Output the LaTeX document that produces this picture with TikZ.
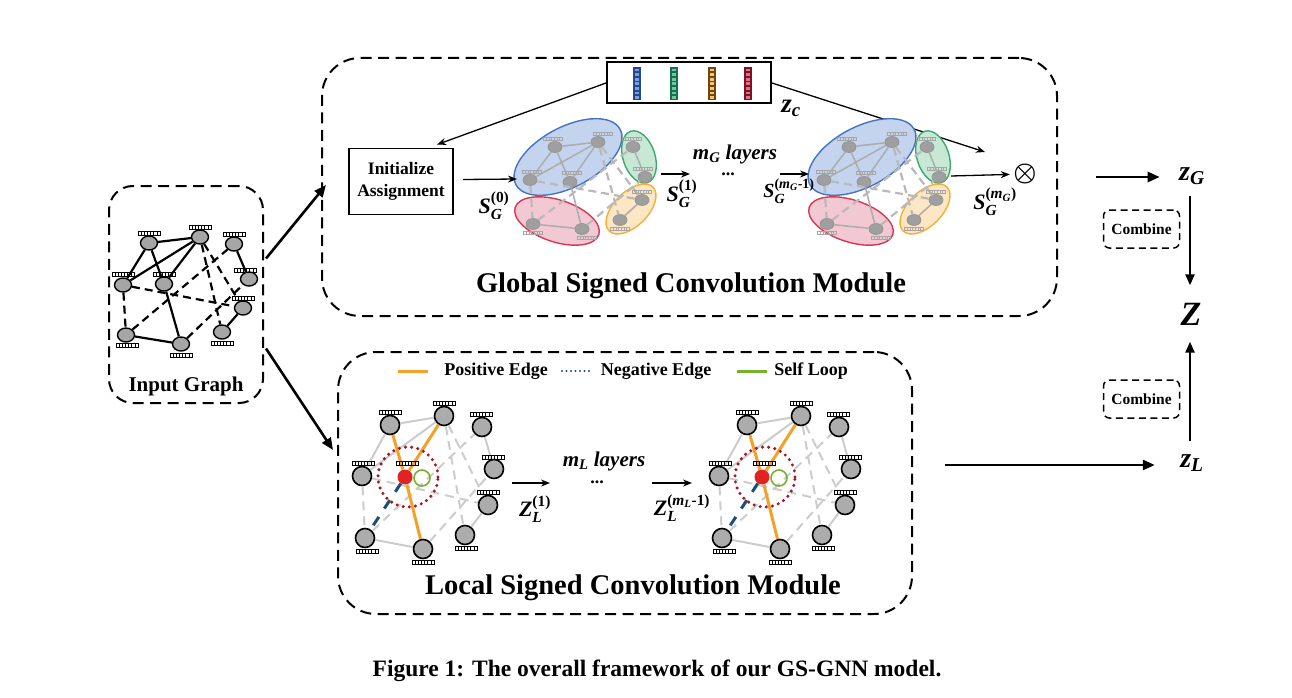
\RequirePackage{fix-cm}
\documentclass[tikz,border=0pt]{standalone}
\usepackage{amsmath}
\usepackage{bm}
\usepackage{fontspec}
\setmainfont{Liberation Serif}
\usetikzlibrary{arrows.meta,shapes.geometric,calc}
\newcommand{\bfit}[1]{\text{\bfseries\itshape #1}}
\newcommand{\bfup}[1]{\text{\bfseries #1}}
\definecolor{eorange}{RGB}{245,160,40}
\definecolor{eblue}{RGB}{31,78,121}
\definecolor{egreen}{RGB}{120,175,45}
\definecolor{edot}{RGB}{160,25,40}
\definecolor{ered}{RGB}{225,35,35}
\definecolor{cbluef}{RGB}{196,212,238}
\definecolor{cblued}{RGB}{68,114,196}
\definecolor{cgreenf}{RGB}{200,232,214}
\definecolor{cgreend}{RGB}{60,170,110}
\definecolor{corangef}{RGB}{253,230,196}
\definecolor{coranged}{RGB}{245,175,55}
\definecolor{credf}{RGB}{242,200,210}
\definecolor{credd}{RGB}{215,55,85}
\definecolor{bbd}{RGB}{40,70,140}\definecolor{bbl}{RGB}{120,160,225}
\definecolor{bgd}{RGB}{25,110,75}\definecolor{bgl}{RGB}{110,200,160}
\definecolor{bod}{RGB}{110,70,20}\definecolor{bol}{RGB}{250,195,110}
\definecolor{brd}{RGB}{120,20,40}\definecolor{brl}{RGB}{230,110,135}
\newcommand{\zcbar}[3]{%
  \fill[#2] (#1-3.6,67) rectangle (#1+3.6,100);
  \foreach \k in {0,...,6}{\fill[#3] (#1-2.2,68.6+4.6*\k) rectangle (#1+2.2,71.4+4.6*\k);}}
\newcommand{\clgraph}[2]{%
\begin{scope}[xshift=#2pt]
  \filldraw[fill=cbluef,draw=cblued,line width=1.4pt,rotate around={28:(568,157)}] (568,157) ellipse [x radius=59pt,y radius=30pt];
  \filldraw[fill=cgreenf,draw=cgreend,line width=1.4pt,rotate around={18:(639,157)}] (639,157) ellipse [x radius=16pt,y radius=27pt];
  \filldraw[fill=corangef,draw=coranged,line width=1.4pt,rotate around={45:(631,209)}] (631,209) ellipse [x radius=31pt,y radius=17pt];
  \filldraw[fill=credf,draw=credd,line width=1.4pt,rotate around={-18:(557,221)}] (557,221) ellipse [x radius=44pt,y radius=21pt];
  \node[cn] (#1a) at (555,147) {};
  \node[cn] (#1b) at (598,142) {};
  \node[cn] (#1c) at (530,180) {};
  \node[cn] (#1d) at (570,182) {};
  \node[cn] (#1e) at (633,147) {};
  \node[cn] (#1f) at (645,177) {};
  \node[cn] (#1g) at (642,200) {};
  \node[cn] (#1h) at (620,220) {};
  \node[cn] (#1i) at (533,224) {};
  \node[cn] (#1j) at (582,229) {};
  \foreach \u/\v in {a/b,c/a,c/b,d/a,d/b,d/j,i/j,e/f,g/h}{\draw[cs] (#1\u) -- (#1\v);}
  \foreach \u/\v in {c/i,c/g,b/h,b/g,i/e,j/f}{\draw[cd] (#1\u) -- (#1\v);}
  \foreach \p in {(553,139),(603,134),(532,172),(572,173),(632,139),(643,169),(642,192),(620,229),(533,233),(587,238)}{\pic[gray!70,scale=0.85] at \p {vb};}
\end{scope}}
\newcommand{\locgraph}[2]{%
\begin{scope}[xshift=#2pt]
  \node[ln] (#1p1) at (390,425) {};
  \node[ln] (#1p2) at (444,416) {};
  \node[ln] (#1p3) at (482,427) {};
  \node[ln] (#1p4) at (362,476) {};
  \node[rn] (#1p5) at (405,477) {};
  \node[ln] (#1p6) at (494,469) {};
  \node[ln] (#1p7) at (488,505) {};
  \node[ln] (#1p8) at (365,538) {};
  \node[ln] (#1p9) at (423,549) {};
  \node[ln] (#1p10) at (465,535) {};
  \foreach \u/\v in {p1/p2,p4/p1,p4/p2,p8/p9,p3/p6,p7/p10}{\draw[ls] (#1\u) -- (#1\v);}
  \foreach \u/\v in {p4/p8,p4/p7,p2/p10,p2/p7,p8/p3,p9/p6}{\draw[ld] (#1\u) -- (#1\v);}
  \foreach \u/\v in {p1/p5,p2/p5,p5/p9}{\draw[lo] (#1\u) -- (#1\v);}
  \draw[lb] (#1p5) -- (#1p8);
  \draw[edot,line width=3.4pt,line cap=round,dash pattern=on 0pt off 6.2pt] (408,477) circle [radius=30pt];
  \draw[egreen,line width=1.6pt] (422,478) circle [radius=8pt];
  \foreach \p in {(390,412),(444,403),(481,414),(363,463),(407,463),(493,457),(488,492),(367,551),(423,562),(466,548)}{\pic at \p {vb};}
\end{scope}}
\begin{document}
\begin{tikzpicture}[x=1pt,y=-1pt,
  vb/.pic={\draw[line width=0.6pt] (-11,-2) rectangle (11,2);
    \foreach \k in {-7.86,-4.71,-1.57,1.57,4.71,7.86}{\draw[line width=0.6pt] (\k,-2) -- (\k,2);}},
  dbox/.style={draw=black,line width=2pt,dash pattern=on 11pt off 6.5pt,rounded corners=38pt,inner sep=0pt},
  cbox/.style={draw=black,line width=1.5pt,dash pattern=on 7pt off 4.5pt,rounded corners=6pt,minimum width=76pt,minimum height=38pt,inner sep=0pt,font=\fontsize{15.5}{17}\selectfont\bfseries},
  ign/.style={ellipse,draw=black,line width=1.4pt,fill=gray!70,minimum width=17pt,minimum height=14pt,inner sep=0pt},
  ln/.style={circle,draw=black,line width=1.6pt,fill=gray!65,minimum size=19pt,inner sep=0pt},
  rn/.style={circle,fill=ered,minimum size=15pt,inner sep=0pt},
  cn/.style={ellipse,draw=gray!85,line width=0.7pt,fill=gray!75,minimum width=14pt,minimum height=11pt,inner sep=0pt},
  es/.style={black,line width=2.2pt},
  ed/.style={black,line width=2.2pt,dash pattern=on 8pt off 5pt},
  cs/.style={gray!65,line width=1.5pt},
  cd/.style={gray!55,line width=2.2pt,dash pattern=on 8pt off 5pt},
  ls/.style={gray!40,line width=2pt},
  ld/.style={gray!40,line width=2pt,dash pattern=on 9pt off 6pt},
  lo/.style={eorange,line width=3pt},
  lb/.style={eblue,line width=3pt,dash pattern=on 10pt off 10pt},
  thick arr/.style={line width=2.6pt,-{Triangle[length=12pt,width=10pt]}},
  thin arr/.style={line width=1.3pt,-{Stealth[length=9pt,width=7pt]}},
  title/.style={font=\fontsize{28.5}{32}\selectfont\bfseries},
  mlab/.style={font=\fontsize{22}{24}\selectfont},
  txt/.style={font=\fontsize{18}{22}\selectfont\bfseries}]
\useasboundingbox (0,0) rectangle (1292,698);

% ---------- module boxes
\node[dbox,rounded corners=24pt,minimum width=154pt,minimum height=217pt] (inbox) at (186,294.5) {};
\node[dbox,minimum width=735pt,minimum height=258pt] (gbox) at (689.5,187) {};
\node[dbox,minimum width=574pt,minimum height=262pt] (lbox) at (625,483) {};
\node[font=\fontsize{21}{24}\selectfont\bfseries] (inlbl) at (186,386) {Input Graph};
\node[title] (gtitle) at (691,286) {Global Signed Convolution Module};
\node[title] (ltitle) at (633,588) {Local Signed Convolution Module};

% ---------- input graph
\node[ign] (n1) at (149,243) {};
\node[ign] (n2) at (200,237) {};
\node[ign] (n3) at (234,244) {};
\node[ign] (n4) at (123,285) {};
\node[ign] (n5) at (164,284) {};
\node[ign] (n6) at (249,279) {};
\node[ign] (n7) at (243,308) {};
\node[ign] (n8) at (126,335) {};
\node[ign] (n9) at (222,332) {};
\node[ign] (n10) at (181,344) {};
\foreach \u/\v in {n1/n2,n4/n1,n4/n2,n5/n1,n5/n2,n5/n10,n8/n10,n3/n6,n7/n9}{\draw[es] (\u) -- (\v);}
\foreach \u/\v in {n4/n8,n4/n7,n2/n9,n2/n7,n8/n3,n10/n6}{\draw[ed] (\u) -- (\v);}
\foreach \p in {(149,233),(200,227),(234,234),(123,274),(164,274),(245,270),(243,298),(127,345),(222,343),(181,355)}{\pic at \p {vb};}

\draw[thick arr] ($(inbox.east)+(2,-36)$) -- ($(gbox.west)+(5,-2)$);
\draw[thick arr] ($(inbox.east)+(2,54)$) -- ($(lbox.west)+(-4,-33)$);

% ---------- global module
\node[draw=black,line width=2pt,minimum width=164pt,minimum height=41pt,inner sep=0pt] (zc) at (689,83) {};
\zcbar{637}{bbd}{bbl}
\zcbar{674}{bgd}{bgl}
\zcbar{712}{bod}{bol}
\zcbar{748}{brd}{brl}
\node[font=\fontsize{27}{28}\selectfont] (zclbl) at (791,108) {$\bfit{z}_{\bfit{c}}$};

\node[draw=black,line width=1.8pt,minimum width=104pt,minimum height=66pt,inner sep=0pt,align=center,font=\fontsize{17.5}{22}\selectfont\bfseries] (init) at (401,181.5) {Initialize\\Assignment};
\coordinate (ota) at (985,152);
\draw[thin arr] (zc.west) -- ($(init.north)+(36,-3)$);
\draw[thin arr] (zc.east) -- (ota);

\clgraph{ga}{0}
\clgraph{gb}{294}

\draw[thin arr] ($(init.east)+(9,-2)$) -- ($(gaa)+(-38,32)$);
\node[mlab] (s0) at (494,206) {$\bfit{S}_{\bfit{G}}^{\bfup{(0)}}$};
\coordinate (a1s) at (661,174);
\coordinate (a1e) at (690,174);
\draw[thin arr] (a1s) -- (a1e);
\node[mlab] (s1) at (682,194) {$\bfit{S}_{\bfit{G}}^{\bfup{(1)}}$};
\node[font=\fontsize{21}{22}\selectfont] (mg) at (735,154) {$\bfit{m}_{\bfit{G}}$ \bfit{layers}};
\node[font=\fontsize{18}{20}\selectfont\bfseries,inner sep=0pt] (dg) at (728,174) {...};
\coordinate (a2s) at (780,174);
\coordinate (a2e) at (809,174);
\draw[thin arr] (a2s) -- (a2e);
\node[font=\fontsize{20}{22}\selectfont] (s2) at (789,191) {$\bfit{S}_{\bfit{G}}^{\bfup{(}\bfit{m}_{\bfit{G}}\bfup{-1)}}$};
\node[font=\fontsize{26}{28}\selectfont] (otimes) at (1025,174) {$\bm{\otimes}$};
\draw[thin arr] ($(gbf)+(12,-1)$) -- (otimes);
\node[mlab] (s3) at (995,202) {$\bfit{S}_{\bfit{G}}^{\bfup{(}\bfit{m}_{\bfit{G}}\bfup{)}}$};

% ---------- local module
\coordinate (lg1) at (398,371);
\coordinate (lg2) at (428,371);
\draw[eorange,line width=3pt] (lg1) -- (lg2);
\node[txt] (tpos) at (496,371) {Positive Edge};
\coordinate (lg3) at (562,371);
\coordinate (lg4) at (591,371);
\draw[eblue,line width=2.4pt,line cap=round,dash pattern=on 0pt off 4.5pt] (lg3) -- (lg4);
\node[txt] (tneg) at (656,371) {Negative Edge};
\coordinate (lg5) at (737,371);
\coordinate (lg6) at (767,371);
\draw[egreen,line width=3pt] (lg5) -- (lg6);
\node[txt] (tself) at (811,371) {Self Loop};

\locgraph{la}{0}
\locgraph{lb}{357}

\coordinate (b1s) at (512,483);
\coordinate (b1e) at (550,483);
\draw[thin arr] (b1s) -- (b1e);
\node[mlab] (z1) at (535,509) {$\bfit{Z}_{\bfit{L}}^{\bfup{(1)}}$};
\node[font=\fontsize{21}{22}\selectfont] (ml) at (604,461) {$\bfit{m}_{\bfit{L}}$ \bfit{layers}};
\node[font=\fontsize{18}{20}\selectfont\bfseries,inner sep=0pt] (dl) at (597,482) {...};
\coordinate (b2s) at (652,483);
\coordinate (b2e) at (692,483);
\draw[thin arr] (b2s) -- (b2e);
\node[mlab] (z2) at (682,508) {$\bfit{Z}_{\bfit{L}}^{\bfup{(}\bfit{m}_{\bfit{L}}\bfup{-1)}}$};

% ---------- right side
\node[font=\fontsize{28}{30}\selectfont] (zg) at (1192,176) {$\bfit{z}_{\bfit{G}}$};
\node[font=\fontsize{34}{36}\selectfont] (zz) at (1191,314) {$\bfit{Z}$};
\node[font=\fontsize{28}{30}\selectfont] (zl) at (1192,463) {$\bfit{z}_{\bfit{L}}$};
\coordinate (zga) at (1096,177);
\draw[thick arr] (zga) -- ($(zg.west)+(-16,1)$);
\coordinate (zla) at (945,465);
\draw[thick arr] (zla) -- ($(zl.west)+(-22,2)$);
\draw[line width=2.4pt,-{Triangle[length=11pt,width=9pt]}] ($(zg.south)+(-2,8)$) -- ($(zz.north)+(-1,-14)$);
\draw[line width=2.4pt,-{Triangle[length=11pt,width=9pt]}] ($(zl.north)+(-2,-10)$) -- ($(zz.south)+(-1,13)$);
\node[cbox] (cb1) at (1141.5,229) {Combine};
\node[cbox] (cb2) at (1141.5,399) {Combine};

% ---------- caption
\node[font=\fontsize{23.5}{26}\selectfont\bfseries] (cap) at (657,671) {Figure 1: The overall framework of our GS-GNN model.};
\end{tikzpicture}
\end{document}
